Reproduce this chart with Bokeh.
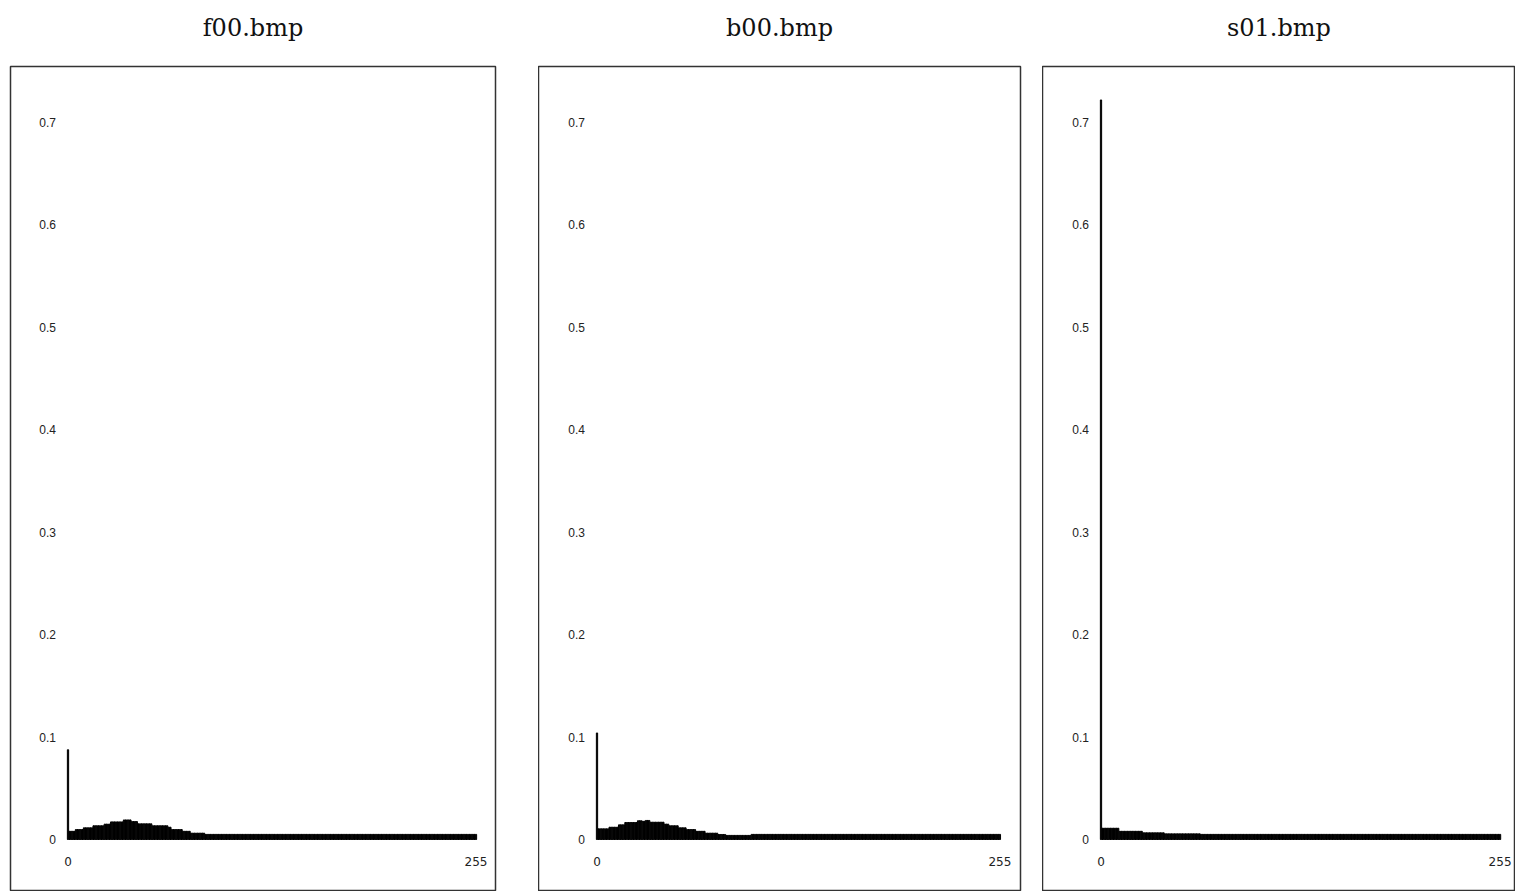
from bokeh.plotting import figure
from bokeh.layouts import row
from bokeh.models import Range1d, Title
from bokeh.core.properties import value
from bokeh.embed import file_html
from bokeh.resources import INLINE

# ---------------- data (histogram of 256 grey levels) ----------------
titles = ["f00.bmp", "b00.bmp", "s01.bmp"]
bins = list(range(256))

f00 = [
    0.0876, 0.008, 0.008, 0.008, 0.008, 0.0097, 0.0097, 0.0097, 0.0097, 0.0097, 0.0114, 0.0114, 0.0114, 0.0114, 0.0114, 0.0114,
    0.0134, 0.0134, 0.0134, 0.0134, 0.0134, 0.0134, 0.0134, 0.015, 0.015, 0.015, 0.015, 0.0172, 0.0172, 0.0172, 0.0172, 0.0172,
    0.0172, 0.0172, 0.0172, 0.0191, 0.0191, 0.0191, 0.0191, 0.0191, 0.0175, 0.0175, 0.0175, 0.0175, 0.0153, 0.0153, 0.0153, 0.0153,
    0.0153, 0.0153, 0.0153, 0.0153, 0.0153, 0.0134, 0.0134, 0.0134, 0.0134, 0.0134, 0.0134, 0.0134, 0.0134, 0.0134, 0.0134, 0.012,
    0.012, 0.0097, 0.0097, 0.0097, 0.0097, 0.0097, 0.0097, 0.0097, 0.008, 0.008, 0.008, 0.008, 0.008, 0.0062, 0.0062, 0.0062,
    0.0062, 0.0062, 0.0062, 0.0062, 0.0062, 0.0062, 0.005, 0.005, 0.005, 0.005, 0.005, 0.005, 0.005, 0.005, 0.005, 0.005,
    0.005, 0.005, 0.005, 0.005, 0.005, 0.005, 0.005, 0.005, 0.005, 0.005, 0.005, 0.005, 0.005, 0.005, 0.005, 0.005,
    0.005, 0.005, 0.005, 0.005, 0.005, 0.005, 0.005, 0.005, 0.005, 0.005, 0.005, 0.005, 0.005, 0.005, 0.005, 0.005,
    0.005, 0.005, 0.005, 0.005, 0.005, 0.005, 0.005, 0.005, 0.005, 0.005, 0.005, 0.005, 0.005, 0.005, 0.005, 0.005,
    0.005, 0.005, 0.005, 0.005, 0.005, 0.005, 0.005, 0.005, 0.005, 0.005, 0.005, 0.005, 0.005, 0.005, 0.005, 0.005,
    0.005, 0.005, 0.005, 0.005, 0.005, 0.005, 0.005, 0.005, 0.005, 0.005, 0.005, 0.005, 0.005, 0.005, 0.005, 0.005,
    0.005, 0.005, 0.005, 0.005, 0.005, 0.005, 0.005, 0.005, 0.005, 0.005, 0.005, 0.005, 0.005, 0.005, 0.005, 0.005,
    0.005, 0.005, 0.005, 0.005, 0.005, 0.005, 0.005, 0.005, 0.005, 0.005, 0.005, 0.005, 0.005, 0.005, 0.005, 0.005,
    0.005, 0.005, 0.005, 0.005, 0.005, 0.005, 0.005, 0.005, 0.005, 0.005, 0.005, 0.005, 0.005, 0.005, 0.005, 0.005,
    0.005, 0.005, 0.005, 0.005, 0.005, 0.005, 0.005, 0.005, 0.005, 0.005, 0.005, 0.005, 0.005, 0.005, 0.005, 0.005,
    0.005, 0.005, 0.005, 0.005, 0.005, 0.005, 0.005, 0.005, 0.005, 0.005, 0.005, 0.005, 0.005, 0.005, 0.005, 0.005,
]

b00 = [
    0.104, 0.0104, 0.0104, 0.0104, 0.0104, 0.0104, 0.0104, 0.0104, 0.012, 0.012, 0.012, 0.012, 0.012, 0.012, 0.0143, 0.0143,
    0.0143, 0.0143, 0.0166, 0.0166, 0.0166, 0.0166, 0.0166, 0.0166, 0.0166, 0.0166, 0.0183, 0.0183, 0.0183, 0.0178, 0.0178, 0.0186,
    0.0186, 0.0186, 0.0169, 0.0169, 0.0169, 0.0169, 0.0169, 0.0169, 0.0169, 0.0169, 0.0169, 0.015, 0.015, 0.015, 0.0134, 0.0134,
    0.0134, 0.0134, 0.0134, 0.0134, 0.0114, 0.0114, 0.0114, 0.0114, 0.0114, 0.0097, 0.0097, 0.0097, 0.0097, 0.0097, 0.0097, 0.008,
    0.008, 0.008, 0.008, 0.008, 0.008, 0.0062, 0.0062, 0.0062, 0.0062, 0.0062, 0.0062, 0.0062, 0.0062, 0.0049, 0.0049, 0.0049,
    0.0049, 0.0049, 0.004, 0.004, 0.004, 0.004, 0.004, 0.004, 0.004, 0.004, 0.004, 0.004, 0.004, 0.004, 0.004, 0.004,
    0.004, 0.004, 0.005, 0.005, 0.005, 0.005, 0.005, 0.005, 0.005, 0.005, 0.005, 0.005, 0.005, 0.005, 0.005, 0.005,
    0.005, 0.005, 0.005, 0.005, 0.005, 0.005, 0.005, 0.005, 0.005, 0.005, 0.005, 0.005, 0.005, 0.005, 0.005, 0.005,
    0.005, 0.005, 0.005, 0.005, 0.005, 0.005, 0.005, 0.005, 0.005, 0.005, 0.005, 0.005, 0.005, 0.005, 0.005, 0.005,
    0.005, 0.005, 0.005, 0.005, 0.005, 0.005, 0.005, 0.005, 0.005, 0.005, 0.005, 0.005, 0.005, 0.005, 0.005, 0.005,
    0.005, 0.005, 0.005, 0.005, 0.005, 0.005, 0.005, 0.005, 0.005, 0.005, 0.005, 0.005, 0.005, 0.005, 0.005, 0.005,
    0.005, 0.005, 0.005, 0.005, 0.005, 0.005, 0.005, 0.005, 0.005, 0.005, 0.005, 0.005, 0.005, 0.005, 0.005, 0.005,
    0.005, 0.005, 0.005, 0.005, 0.005, 0.005, 0.005, 0.005, 0.005, 0.005, 0.005, 0.005, 0.005, 0.005, 0.005, 0.005,
    0.005, 0.005, 0.005, 0.005, 0.005, 0.005, 0.005, 0.005, 0.005, 0.005, 0.005, 0.005, 0.005, 0.005, 0.005, 0.005,
    0.005, 0.005, 0.005, 0.005, 0.005, 0.005, 0.005, 0.005, 0.005, 0.005, 0.005, 0.005, 0.005, 0.005, 0.005, 0.005,
    0.005, 0.005, 0.005, 0.005, 0.005, 0.005, 0.005, 0.005, 0.005, 0.005, 0.005, 0.005, 0.005, 0.005, 0.005, 0.005,
]

s01 = [
    0.722, 0.011, 0.011, 0.011, 0.011, 0.011, 0.011, 0.011, 0.011, 0.011, 0.011, 0.011, 0.008, 0.008, 0.008, 0.008,
    0.008, 0.008, 0.008, 0.008, 0.008, 0.008, 0.008, 0.008, 0.008, 0.008, 0.008, 0.0065, 0.0065, 0.0065, 0.0065, 0.0065,
    0.0065, 0.0065, 0.0065, 0.0065, 0.0065, 0.0065, 0.0065, 0.0065, 0.0065, 0.0055, 0.0055, 0.0055, 0.0055, 0.0055, 0.0055, 0.0055,
    0.0055, 0.0055, 0.0055, 0.0055, 0.0055, 0.0055, 0.0055, 0.0055, 0.0055, 0.0055, 0.0055, 0.0055, 0.0055, 0.0055, 0.0055, 0.0055,
    0.005, 0.005, 0.005, 0.005, 0.005, 0.005, 0.005, 0.005, 0.005, 0.005, 0.005, 0.005, 0.005, 0.005, 0.005, 0.005,
    0.005, 0.005, 0.005, 0.005, 0.005, 0.005, 0.005, 0.005, 0.005, 0.005, 0.005, 0.005, 0.005, 0.005, 0.005, 0.005,
    0.005, 0.005, 0.005, 0.005, 0.005, 0.005, 0.005, 0.005, 0.005, 0.005, 0.005, 0.005, 0.005, 0.005, 0.005, 0.005,
    0.005, 0.005, 0.005, 0.005, 0.005, 0.005, 0.005, 0.005, 0.005, 0.005, 0.005, 0.005, 0.005, 0.005, 0.005, 0.005,
    0.005, 0.005, 0.005, 0.005, 0.005, 0.005, 0.005, 0.005, 0.005, 0.005, 0.005, 0.005, 0.005, 0.005, 0.005, 0.005,
    0.005, 0.005, 0.005, 0.005, 0.005, 0.005, 0.005, 0.005, 0.005, 0.005, 0.005, 0.005, 0.005, 0.005, 0.005, 0.005,
    0.005, 0.005, 0.005, 0.005, 0.005, 0.005, 0.005, 0.005, 0.005, 0.005, 0.005, 0.005, 0.005, 0.005, 0.005, 0.005,
    0.005, 0.005, 0.005, 0.005, 0.005, 0.005, 0.005, 0.005, 0.005, 0.005, 0.005, 0.005, 0.005, 0.005, 0.005, 0.005,
    0.005, 0.005, 0.005, 0.005, 0.005, 0.005, 0.005, 0.005, 0.005, 0.005, 0.005, 0.005, 0.005, 0.005, 0.005, 0.005,
    0.005, 0.005, 0.005, 0.005, 0.005, 0.005, 0.005, 0.005, 0.005, 0.005, 0.005, 0.005, 0.005, 0.005, 0.005, 0.005,
    0.005, 0.005, 0.005, 0.005, 0.005, 0.005, 0.005, 0.005, 0.005, 0.005, 0.005, 0.005, 0.005, 0.005, 0.005, 0.005,
    0.005, 0.005, 0.005, 0.005, 0.005, 0.005, 0.005, 0.005, 0.005, 0.005, 0.005, 0.005, 0.005, 0.005, 0.005, 0.005,
]

series = [f00, b00, s01]

y_ticks = [0, 0.1, 0.2, 0.3, 0.4, 0.5, 0.6, 0.7]
y_tick_labels = ["0", "0.1", "0.2", "0.3", "0.4", "0.5", "0.6", "0.7"]
x_ticks = [0, 255]
x_tick_labels = ["0", "255"]

# ---------------- layout (pixels) ----------------
FIG_H = 891
TOP = 66          # frame top at 66 on the page
FRAME_H = FIG_H - TOP
# (fig width, border left, border right, px of bin 0 in frame, px per bin)
layout = [
    (538, 10, 43, 57.5, 1.600),
    (504, 0, 22, 58.5, 1.580),
    (473, 0, 0, 58.5, 1.565),
]
PX_PER_Y = 1024.3
Y0_FROM_TOP = 773.0   # y=0 is 773 px below frame top

figs = []
for title, vals, (w, bl, br, x0px, ppx) in zip(titles, series, layout):
    frame_w = w - bl - br
    xs = -x0px / ppx
    xe = xs + frame_w / ppx
    ye = Y0_FROM_TOP / PX_PER_Y
    ys = ye - FRAME_H / PX_PER_Y
    p = figure(width=w, height=FIG_H, x_range=Range1d(xs, xe), y_range=Range1d(ys, ye),
               x_axis_location=None, y_axis_location=None,
               toolbar_location=None, output_backend="svg",
               min_border_left=bl, min_border_right=br, min_border_top=TOP, min_border_bottom=0,
               background_fill_color="white", border_fill_color="white")
    p.grid.visible = False
    p.outline_line_color = "#333333"
    p.outline_line_width = 1.5
    p.title.text = title
    p.title.align = "center"
    p.title.text_font = "DejaVu Serif"
    p.title.text_font_style = "normal"
    p.title.text_font_size = "24px"
    p.title.text_color = "#111111"
    p.title.standoff = 0
    # thin spacer between the frame and the title
    p.add_layout(Title(text=" ", text_font_size="1px", standoff=22), "above")

    p.vbar(x=bins, top=vals, bottom=0, width=0.8, fill_color="black",
           line_color="black", line_width=1)

    p.text(x=[0] * len(y_ticks), y=y_ticks, text=y_tick_labels, x_offset=-12,
           text_align="right", text_baseline="middle", text_font=value("Liberation Sans"),
           text_font_size="12px", text_color="#222222")
    p.text(x=x_ticks, y=[0, 0], text=x_tick_labels, y_offset=22,
           text_align="center", text_baseline="middle", text_font=value("DejaVu Sans"),
           text_font_size="12px", text_color="#222222")
    figs.append(p)

layout_row = row(*figs, spacing=0)
open("out.html", "w").write(file_html(layout_row, INLINE))
